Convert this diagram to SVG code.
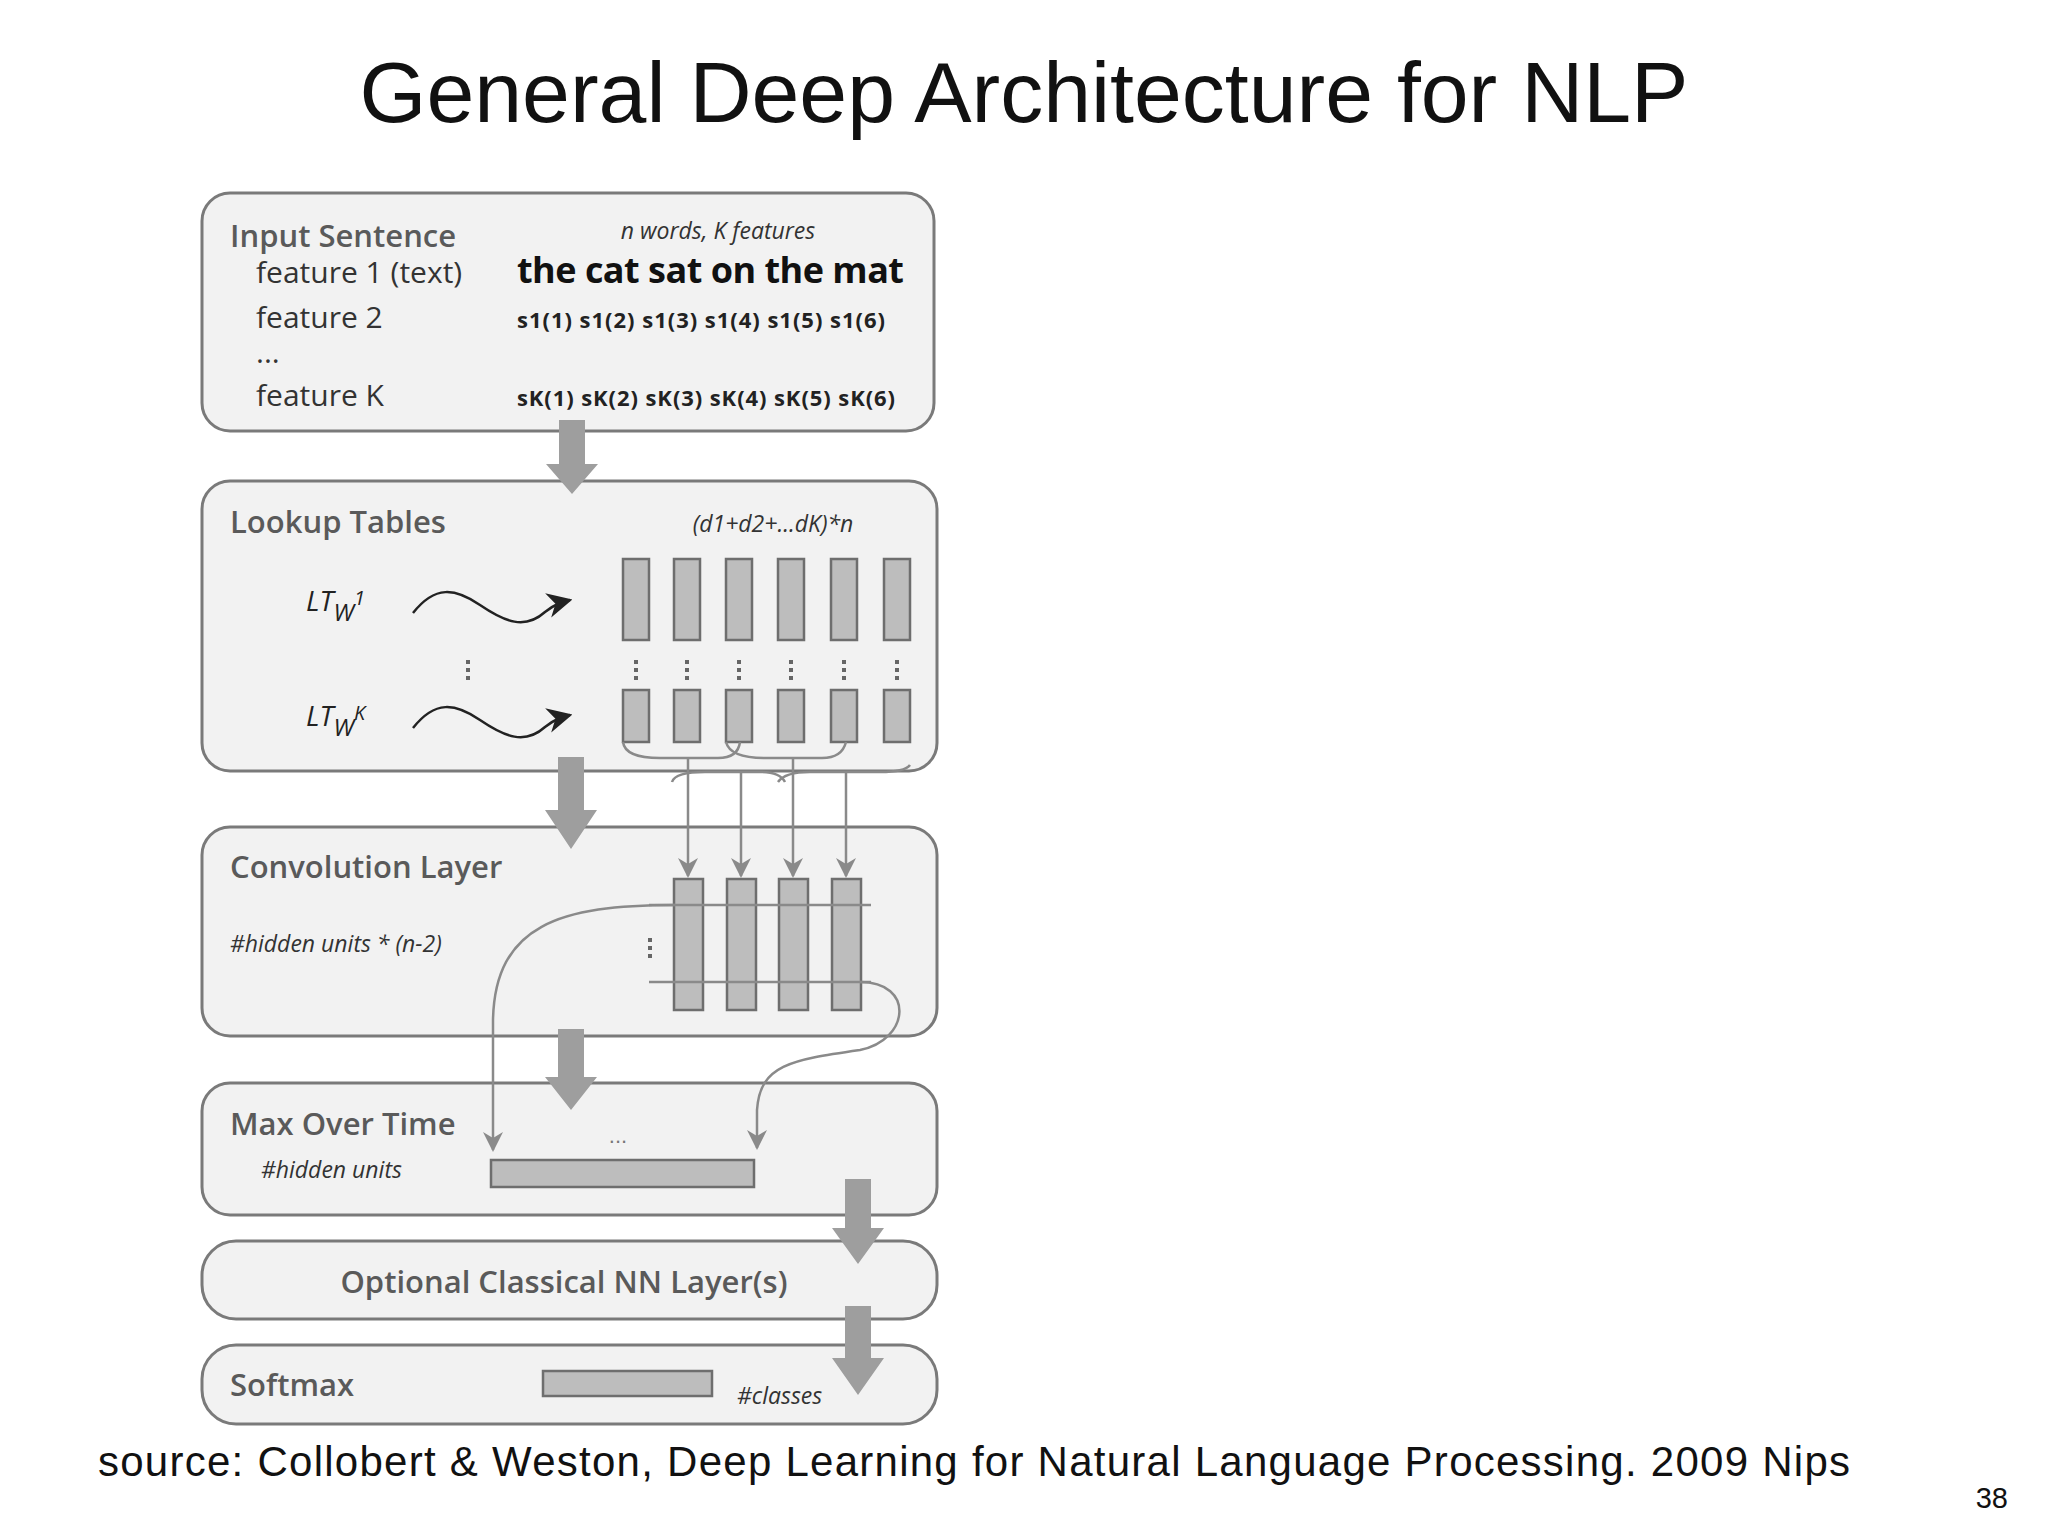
<svg xmlns="http://www.w3.org/2000/svg" width="2048" height="1536" viewBox="0 0 2048 1536">
<style>
.box{fill:#f2f2f2;stroke:#7a7a7a;stroke-width:3}
.hd{font-family:"Open Sans","Liberation Sans",sans-serif;font-weight:600;font-size:31px;fill:#5a5a5a}
.ft{font-family:"Open Sans","Liberation Sans",sans-serif;font-size:30px;fill:#333}
.it{font-family:"Open Sans","Liberation Sans",sans-serif;font-style:italic;font-size:23px;fill:#333}
.sm{font-family:"Open Sans","Liberation Sans",sans-serif;font-weight:700;font-size:22px;fill:#222}
.bar{fill:#bdbdbd;stroke:#6e6e6e;stroke-width:2.5}
.big{fill:#9e9e9e}
.thin{fill:none;stroke:#8a8a8a;stroke-width:2.5}
.sq{fill:none;stroke:#222;stroke-width:2.5}
.dots{stroke:#666;stroke-width:4;stroke-dasharray:4 4}
</style>
<defs>
<marker id="ga" viewBox="0 0 10 10" refX="9" refY="5" markerWidth="20" markerHeight="20" orient="auto" markerUnits="userSpaceOnUse">
<path d="M0,0 L10,5 L0,10 L3,5 Z" fill="#8a8a8a"/></marker>
<marker id="ba" viewBox="0 0 10 10" refX="9" refY="5" markerWidth="10" markerHeight="10" orient="auto" markerUnits="strokeWidth">
<path d="M0,0 L10,5 L0,10 L3,5 Z" fill="#222"/></marker>
</defs>
<rect width="2048" height="1536" fill="#fff"/>
<text x="1024" y="122" text-anchor="middle" font-family="Liberation Sans, sans-serif" font-size="86" fill="#111">General Deep Architecture for NLP</text>

<g id="input">
<rect class="box" x="202" y="193" width="732" height="238" rx="28"/>
<text class="hd" x="230" y="247">Input Sentence</text>
<text class="ft" x="256" y="283">feature 1 (text)</text>
<text class="ft" x="256" y="328">feature 2</text>
<text class="ft" x="256" y="363">...</text>
<text class="ft" x="256" y="406">feature K</text>
<text class="it" x="718" y="239" text-anchor="middle">n words, K features</text>
<text x="517" y="283" font-family="Open Sans, Liberation Sans, sans-serif" font-weight="700" font-size="36" fill="#111" textLength="387">the cat sat on the mat</text>
<text class="sm" x="517" y="328" textLength="368">s1(1) s1(2) s1(3) s1(4) s1(5) s1(6)</text>
<text class="sm" x="517" y="406" textLength="378">sK(1) sK(2) sK(3) sK(4) sK(5) sK(6)</text>
</g>

<g id="lookup">
<rect class="box" x="202" y="481" width="735" height="290" rx="28"/>
<text class="hd" x="230" y="533">Lookup Tables</text>
<text class="it" x="773" y="532" text-anchor="middle">(d1+d2+...dK)*n</text>
<text x="306" y="611" font-family="Open Sans, Liberation Sans, sans-serif" font-style="italic" font-size="28" fill="#222">LT<tspan font-size="24" dy="10">W</tspan><tspan font-size="20" dy="-16">1</tspan></text>
<text x="306" y="726" font-family="Open Sans, Liberation Sans, sans-serif" font-style="italic" font-size="28" fill="#222">LT<tspan font-size="24" dy="10">W</tspan><tspan font-size="20" dy="-16">K</tspan></text>
<path class="sq" marker-end="url(#ba)" d="M413 613 C435 585 455 588 480 605 C505 622 525 630 545 612 C555 604 562 602 570 600"/>
<path class="sq" marker-end="url(#ba)" d="M413 728 C435 700 455 703 480 720 C505 737 525 745 545 727 C555 719 562 717 570 715"/>
<line class="dots" x1="468" y1="660" x2="468" y2="682"/>
<g>
<rect class="bar" x="623" y="559" width="26" height="81"/><rect class="bar" x="674" y="559" width="26" height="81"/><rect class="bar" x="726" y="559" width="26" height="81"/><rect class="bar" x="778" y="559" width="26" height="81"/><rect class="bar" x="831" y="559" width="26" height="81"/><rect class="bar" x="884" y="559" width="26" height="81"/>
<line class="dots" x1="636" y1="660" x2="636" y2="682"/><line class="dots" x1="687" y1="660" x2="687" y2="682"/><line class="dots" x1="739" y1="660" x2="739" y2="682"/><line class="dots" x1="791" y1="660" x2="791" y2="682"/><line class="dots" x1="844" y1="660" x2="844" y2="682"/><line class="dots" x1="897" y1="660" x2="897" y2="682"/>
<rect class="bar" x="623" y="690" width="26" height="52"/><rect class="bar" x="674" y="690" width="26" height="52"/><rect class="bar" x="726" y="690" width="26" height="52"/><rect class="bar" x="778" y="690" width="26" height="52"/><rect class="bar" x="831" y="690" width="26" height="52"/><rect class="bar" x="884" y="690" width="26" height="52"/>
</g>
</g>

<g id="conv">
<rect class="box" x="202" y="827" width="735" height="209" rx="28"/>
<text class="hd" x="230" y="878">Convolution Layer</text>
<text class="it" x="230" y="952">#hidden units * (n-2)</text>
<line class="dots" x1="650" y1="938" x2="650" y2="958"/>
<rect class="bar" x="674" y="879" width="29" height="131"/><rect class="bar" x="727" y="879" width="29" height="131"/><rect class="bar" x="779" y="879" width="29" height="131"/><rect class="bar" x="832" y="879" width="29" height="131"/>
<line class="thin" x1="649" y1="905" x2="871" y2="905"/>
<line class="thin" x1="649" y1="982" x2="871" y2="982"/>
</g>

<g id="maxtime">
<rect class="box" x="202" y="1083" width="735" height="132" rx="28"/>
<text class="hd" x="230" y="1135">Max Over Time</text>
<text class="it" x="261" y="1178">#hidden units</text>
<text x="618" y="1143" text-anchor="middle" font-family="Liberation Sans, sans-serif" font-size="22" fill="#777">...</text>
<rect class="bar" x="491" y="1160" width="263" height="27"/>
</g>

<g id="optional">
<rect class="box" x="202" y="1241" width="735" height="78" rx="34"/>
<text class="hd" x="564" y="1293" text-anchor="middle" font-size="32">Optional Classical NN Layer(s)</text>
</g>

<g id="softmax">
<rect class="box" x="202" y="1345" width="735" height="79" rx="34"/>
<text class="hd" x="230" y="1396">Softmax</text>
<rect class="bar" x="543" y="1371" width="169" height="25"/>
<text class="it" x="737" y="1404">#classes</text>
</g>

<g id="connectors">
<path class="big" d="M559 420 H585 V464 H598 L572 494 L546 464 H559 Z"/>
<path class="big" d="M558 757 H584 V810 H597 L571 849 L545 810 H558 Z"/>
<path class="big" d="M558 1029 H584 V1077 H597 L571 1110 L545 1077 H558 Z"/>
<path class="big" d="M845 1179 H871 V1228 H884 L858 1264 L832 1228 H845 Z"/>
<path class="big" d="M845 1306 H871 V1358 H884 L858 1395 L832 1358 H845 Z"/>
<path class="thin" d="M623 742 Q625 758 660 758 L718 758 Q738 758 740 742"/>
<path class="thin" d="M726 742 Q730 758 765 758 L822 758 Q842 758 846 742"/>
<path class="thin" d="M672 782 Q675 772 705 772 L760 772 Q780 772 785 782"/>
<path class="thin" d="M778 782 Q785 772 810 772 L880 772 Q905 772 910 765"/>
<line class="thin" marker-end="url(#ga)" x1="688" y1="758" x2="688" y2="876"/>
<line class="thin" marker-end="url(#ga)" x1="741" y1="772" x2="741" y2="876"/>
<line class="thin" marker-end="url(#ga)" x1="793" y1="758" x2="793" y2="876"/>
<line class="thin" marker-end="url(#ga)" x1="846" y1="772" x2="846" y2="876"/>
<path class="thin" marker-end="url(#ga)" d="M675 905 C560 905 495 925 493 1020 L493 1150"/>
<path class="thin" marker-end="url(#ga)" d="M860 982 C915 982 910 1040 860 1050 C790 1060 760 1065 757 1110 L757 1148"/>
</g>

<text x="98" y="1476" font-family="Liberation Sans, sans-serif" font-size="42" fill="#111" textLength="1752">source: Collobert &amp; Weston, Deep Learning for  Natural Language Processing. 2009 Nips</text>
<text x="2008" y="1508" text-anchor="end" font-family="Liberation Sans, sans-serif" font-size="29" fill="#111">38</text>
</svg>
